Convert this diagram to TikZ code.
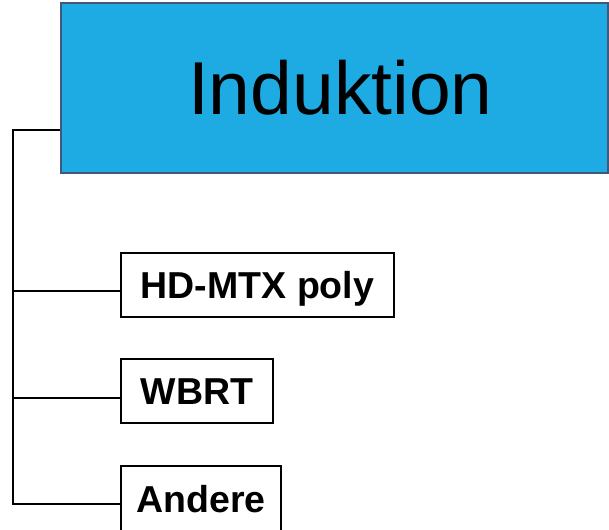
\documentclass[tikz,border=0pt]{standalone}
\usepackage{fontspec}
\setmainfont{Liberation Sans}
\definecolor{headblue}{RGB}{30,170,226}
\definecolor{headedge}{RGB}{65,88,122}
\begin{document}
\begin{tikzpicture}[x=1pt,y=-1pt,
  head/.style={draw=headedge, line width=2pt, fill=headblue, inner sep=0pt,
    minimum width=547pt, minimum height=170pt,
    font=\fontsize{75}{75}\selectfont, text height=53.7pt, text depth=0pt},
  leaf/.style={draw=black, line width=2pt, fill=white, inner sep=0pt,
    minimum height=64pt, font=\fontsize{37.5}{37.5}\selectfont\bfseries,
    text height=26.9pt, text depth=0pt},
  link/.style={draw=black, line width=2pt}]
  \useasboundingbox (0,0) rectangle (609,529);
  \clip (0,0) rectangle (609,529);

  % heading box
  \node[head] (ind) at (334.3,88) {\hspace*{12pt}Induktion};

  % branch boxes
  \node[leaf, minimum width=273pt] (hd) at (257.5,285) {HD-MTX poly};
  \node[leaf, minimum width=152pt] (wbrt) at (197,391) {WBRT};
  \node[leaf, minimum width=160pt, minimum height=67pt] (and) at (201,499) {Andere};

  % attachment points, a little below each box's middle
  \coordinate (trunk) at (13,130);
  \coordinate (hdin) at ([yshift=-6pt]hd.west);
  \coordinate (wbrtin) at ([yshift=-6.5pt]wbrt.west);
  \coordinate (andin) at ([yshift=-4.5pt]and.west);

  % tree connectors
  \draw[link] (ind.west |- trunk) -- (trunk) -- (trunk |- andin) -- (andin);
  \draw[link] (trunk |- hdin) -- (hdin);
  \draw[link] (trunk |- wbrtin) -- (wbrtin);
\end{tikzpicture}
\end{document}
